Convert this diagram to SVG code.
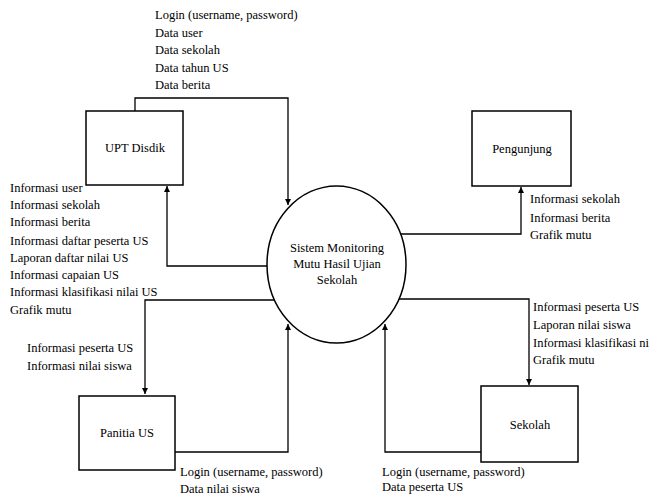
<svg xmlns="http://www.w3.org/2000/svg" width="650" height="498" viewBox="0 0 650 498" font-family="'Liberation Serif', 'DejaVu Serif', serif" font-size="12.5">
<style>
text{font-family:'Liberation Serif','DejaVu Serif',serif;font-size:12.5px;fill:#000}
.box{fill:#fff;stroke:#000;stroke-width:1.5}
.c{text-anchor:middle}
.ln{fill:none;stroke:#000;stroke-width:1.3}
</style>
<defs>
<marker id="ah" markerWidth="8" markerHeight="8" refX="6" refY="3" orient="auto" markerUnits="userSpaceOnUse">
<path d="M0,0 L6,3 L0,6 Z" fill="#000"/>
</marker>
</defs>
<rect width="650" height="498" fill="#fff"/>
<g id="connectors">
<path class="ln" d="M135,111 V98 H288 V205" marker-end="url(#ah)"/>
<path class="ln" d="M268,266 H167 V186" marker-end="url(#ah)"/>
<path class="ln" d="M274,300 H145 V394" marker-end="url(#ah)"/>
<path class="ln" d="M175,452 H288 V324" marker-end="url(#ah)"/>
<path class="ln" d="M400,234 H521 V187" marker-end="url(#ah)"/>
<path class="ln" d="M398,299 H529 V385" marker-end="url(#ah)"/>
<path class="ln" d="M481,452 H385 V324" marker-end="url(#ah)"/>
</g>
<g id="process">
<ellipse cx="336.5" cy="264.5" rx="69.5" ry="78.5" fill="#fff" stroke="#000" stroke-width="1.5"/>
<text class="c" x="337" y="252">Sistem Monitoring</text>
<text class="c" x="337" y="268">Mutu Hasil Ujian</text>
<text class="c" x="337" y="284">Sekolah</text>
</g>
<g id="upt">
<rect class="box" x="86" y="111" width="97" height="74"/>
<text class="c" x="135" y="152">UPT Disdik</text>
</g>
<g id="pengunjung">
<rect class="box" x="472" y="111" width="99" height="75"/>
<text class="c" x="522" y="153">Pengunjung</text>
</g>
<g id="panitia">
<rect class="box" x="79" y="396" width="96" height="74"/>
<text class="c" x="127" y="437">Panitia US</text>
</g>
<g id="sekolah">
<rect class="box" x="481" y="386" width="97" height="76"/>
<text class="c" x="530" y="429">Sekolah</text>
</g>
<g id="labels">
<text x="155" y="19">Login (username, password)</text>
<text x="155" y="37">Data user</text>
<text x="155" y="54">Data sekolah</text>
<text x="155" y="72">Data tahun US</text>
<text x="155" y="89">Data berita</text>
<text x="10" y="192">Informasi user</text>
<text x="10" y="209">Informasi sekolah</text>
<text x="10" y="226">Informasi berita</text>
<text x="10" y="245">Informasi daftar peserta US</text>
<text x="10" y="262">Laporan daftar nilai US</text>
<text x="10" y="279">Informasi capaian US</text>
<text x="10" y="296">Informasi klasifikasi nilai US</text>
<text x="10" y="314">Grafik mutu</text>
<text x="27" y="352">Informasi peserta US</text>
<text x="27" y="370">Informasi nilai siswa</text>
<text x="530" y="203">Informasi sekolah</text>
<text x="530" y="222">Informasi berita</text>
<text x="530" y="239">Grafik mutu</text>
<text x="533" y="311">Informasi peserta US</text>
<text x="533" y="329">Laporan nilai siswa</text>
<text x="533" y="347">Informasi klasifikasi ni</text>
<text x="533" y="364">Grafik mutu</text>
<text x="180" y="476">Login (username, password)</text>
<text x="180" y="493">Data nilai siswa</text>
<text x="382" y="476">Login (username, password)</text>
<text x="382" y="491">Data peserta US</text>
</g>
</svg>
